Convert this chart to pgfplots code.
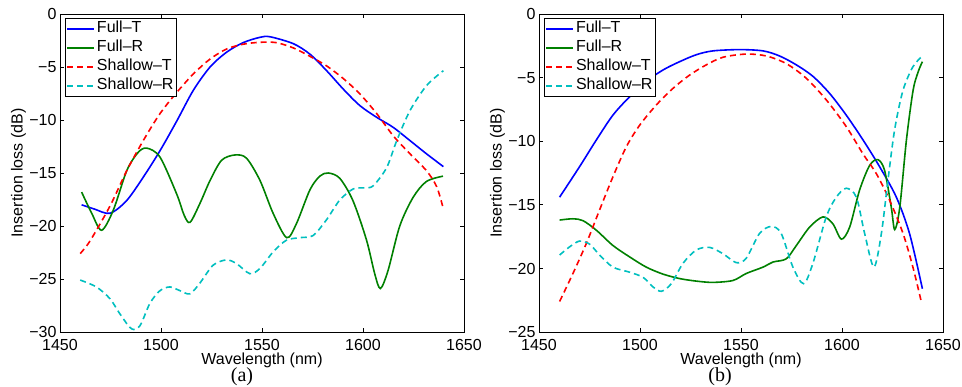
\documentclass[border=0pt]{standalone}
\usepackage{fontspec}
\setmainfont{Liberation Sans}
\newfontfamily\capfont{Liberation Serif}
\usepackage{pgfplots}
\pgfplotsset{compat=1.18}
\definecolor{mblue}{rgb}{0,0,1}
\definecolor{mgreen}{rgb}{0,0.5,0}
\definecolor{mred}{rgb}{1,0,0}
\definecolor{mcyan}{rgb}{0,0.75,0.75}
\pgfplotsset{
 mystyle/.style={
  scale only axis, width=404pt, height=318pt,
  xmin=1450, xmax=1650, xtick={1450,1500,...,1650},
  tick align=inside, tick pos=both, major tick length=4pt,
  axis line style={line width=0.8pt},
  every tick/.style={black, line width=0.8pt},
  /pgf/number format/assume math mode=true,
  /pgf/number format/set thousands separator={},
  xlabel={Wavelength (nm)}, ylabel={Insertion loss (dB)},
  xlabel style={at={(axis description cs:0.5,0)}, anchor=center, yshift=-28pt},
  ylabel style={at={(axis description cs:-0.1027,0.5)}, anchor=center, rotate=0},
  yticklabel style={xshift=2pt, inner ysep=0pt, text height=11.4pt, text depth=0pt},
  xticklabel style={yshift=-6.5pt, inner ysep=0pt, text height=11.4pt, text depth=0pt},
  legend style={at={(axis description cs:0,1)}, anchor=north west, xshift=5pt, yshift=-4pt,
    draw=black, line width=0.8pt, inner sep=1pt, row sep=0pt, cells={anchor=west},
    nodes={inner sep=2pt, text height=11.5pt, text depth=3.5pt}},
  legend image code/.code={\draw[#1] (3pt,0pt) -- (30pt,0pt);},
  ft/.style={mblue, line width=1.6pt, smooth},
  fr/.style={mgreen, line width=1.6pt, smooth},
  st/.style={mred, line width=1.6pt, smooth, dash pattern=on 6pt off 4pt},
  sr/.style={mcyan, line width=1.6pt, smooth, dash pattern=on 6pt off 4pt},
 }
}
\begin{document}
\fontsize{16}{19}\selectfont
\begin{tikzpicture}
\useasboundingbox (0,0) rectangle (962pt,387pt);
% ---------------- (a)
\begin{axis}[mystyle, at={(60pt,55pt)}, anchor=south west,
  ymin=-30, ymax=0, ytick={-30,-25,-20,-15,-10,-5,0},
  yticklabels={−30,−25,−20,−15,−10,−5,0}]
\addplot[ft] coordinates {
(1460.7,-18.0) (1467,-18.4) (1474.8,-18.8) (1483,-17.6) (1491.2,-15.4) (1499.5,-12.9) (1507.8,-10.1)
(1516,-7.2) (1524.3,-5.0) (1532.5,-3.6) (1540.7,-2.7) (1549,-2.2) (1554,-2.15) (1565.5,-2.8)
(1573.8,-3.8) (1582,-5.35) (1590.3,-7.1) (1598.5,-8.65) (1606.8,-9.75) (1615,-10.7) (1623.3,-11.95)
(1631.5,-13.2) (1639.8,-14.4)};
\addplot[fr] coordinates {
(1460.7,-16.8) (1465.7,-18.8) (1470.6,-20.4) (1476.4,-18.5) (1483,-14.8) (1488.5,-13.1) (1492.9,-12.65)
(1499.5,-13.5) (1507.8,-17.0) (1511.5,-19.0) (1514.4,-19.65) (1519.2,-17.9) (1524.3,-15.7) (1530,-13.8)
(1536.6,-13.3) (1542.3,-13.6) (1549,-15.7) (1555.5,-18.8) (1562.2,-21.1) (1567,-19.8) (1573.7,-16.6)
(1578.6,-15.3) (1582.8,-15.0) (1588.5,-15.5) (1595,-17.6) (1601.7,-21.3) (1605.8,-24.5) (1608.6,-25.9)
(1612.4,-24.2) (1618.2,-20.0) (1624.8,-17.3) (1631.4,-15.8) (1639.6,-15.3)};
\addplot[st] coordinates {
(1460,-22.6) (1464.9,-21.4) (1474.8,-18.1) (1483,-14.8) (1491.2,-11.95) (1499.5,-9.4) (1507.8,-7.4)
(1516,-5.66) (1524.3,-4.25) (1532.5,-3.3) (1540.7,-2.85) (1549,-2.67) (1557,-2.7) (1565.5,-3.2)
(1573.8,-4.0) (1582,-4.9) (1590.3,-6.1) (1598.5,-7.55) (1606.8,-9.4) (1615,-11.5) (1623.3,-13.2)
(1631.5,-14.8) (1636.5,-16.3) (1639.8,-18.4)};
\addplot[sr] coordinates {
(1460,-25.1) (1468,-25.75) (1474.7,-26.85) (1479.7,-28.3) (1485.4,-29.7) (1489.6,-29.4) (1494.5,-27.3)
(1499.5,-26.1) (1504.4,-25.75) (1509.4,-26.1) (1514.3,-26.4) (1519.2,-25.4) (1525.8,-23.7) (1532.4,-23.2)
(1537.4,-23.55) (1544,-24.5) (1549,-24.0) (1555.5,-22.45) (1562,-21.35) (1568.8,-21.1) (1575.3,-20.9)
(1581.8,-19.45) (1588.5,-17.55) (1595.2,-16.5) (1601,-16.4) (1605.1,-16.2) (1611.7,-14.5) (1616.7,-11.95)
(1623.3,-9.1) (1631.5,-6.75) (1639.8,-5.35)};
\legend{Full–T, Full–R, Shallow–T, Shallow–R}
\end{axis}
% ---------------- (b)
\begin{axis}[mystyle, at={(539pt,55pt)}, anchor=south west,
  ymin=-25, ymax=0, ytick={-25,-20,-15,-10,-5,0},
  yticklabels={−25,−20,−15,−10,−5,0}]
\addplot[ft] coordinates {
(1460.2,-14.4) (1470.1,-12.0) (1478.4,-9.9) (1486.6,-7.95) (1494.9,-6.5) (1503.1,-5.3) (1511.4,-4.4)
(1519.6,-3.75) (1527.9,-3.2) (1536.1,-2.9) (1549.3,-2.8) (1560.9,-2.9) (1569.1,-3.3) (1577.4,-4.0)
(1585.6,-4.9) (1593.9,-6.25) (1602.1,-7.95) (1610.4,-9.9) (1618.6,-12.0) (1626.9,-14.4) (1633.5,-17.3) (1639.8,-21.6)};
\addplot[fr] coordinates {
(1460.2,-16.2) (1466.8,-16.1) (1471.8,-16.25) (1478.4,-17.0) (1486.6,-18.2) (1494.9,-19.1) (1503.1,-19.9)
(1511.4,-20.45) (1519.6,-20.8) (1527.9,-21.0) (1536.1,-21.1) (1546,-20.95) (1552.6,-20.4) (1560.9,-19.9)
(1565.8,-19.5) (1572.4,-19.25) (1577.4,-18.2) (1584,-16.75) (1590.6,-15.95) (1595.5,-16.5) (1599.7,-17.7)
(1603.8,-16.75) (1608.7,-13.85) (1613.7,-11.9) (1617.8,-11.45) (1621.1,-12.3) (1624.4,-15.2) (1626.1,-16.95)
(1628.6,-15.2) (1631.9,-9.9) (1635.2,-6.0) (1637.7,-4.55) (1639.8,-3.75)};
\addplot[st] coordinates {
(1460.2,-22.6) (1466.8,-20.4) (1473.4,-18.05) (1480,-15.4) (1486.6,-12.8) (1493.2,-10.45) (1499.8,-8.75)
(1508.1,-7.15) (1516.3,-5.85) (1524.6,-4.8) (1532.8,-4.0) (1541.1,-3.4) (1552.6,-3.15) (1562.5,-3.3)
(1572.4,-3.9) (1582.3,-5.05) (1592.2,-6.75) (1602.1,-8.85) (1610.4,-11.0) (1617,-12.55) (1623.6,-14.65)
(1630.2,-17.25) (1635.1,-19.9) (1639.3,-22.65)};
\addplot[sr] coordinates {
(1460.2,-18.95) (1465.2,-18.3) (1470.1,-17.85) (1475.1,-18.1) (1480,-18.95) (1486.6,-19.9) (1494.9,-20.3)
(1501.5,-20.7) (1506.4,-21.45) (1510.6,-21.8) (1515.5,-21.2) (1521.3,-19.6) (1527.9,-18.55) (1534.5,-18.35)
(1541.1,-18.85) (1547.7,-19.55) (1552.6,-19.2) (1559.2,-17.25) (1565,-16.7) (1569.9,-17.25) (1575.7,-19.9)
(1581,-21.2) (1585.6,-19.6) (1592.2,-15.95) (1597.2,-14.4) (1602.1,-13.7) (1607.1,-14.4) (1611.2,-17.25)
(1615.8,-19.9) (1619.5,-17.25) (1622.8,-13.0) (1626.1,-9.05) (1630.2,-6.0) (1635.1,-4.15) (1639.8,-3.3)};
\legend{Full–T, Full–R, Shallow–T, Shallow–R}
\end{axis}
\node[font=\capfont\fontsize{20}{24}\selectfont] at (242pt,10pt) {(a)};
\node[font=\capfont\fontsize{20}{24}\selectfont] at (720pt,10pt) {(b)};
\end{tikzpicture}
\end{document}
